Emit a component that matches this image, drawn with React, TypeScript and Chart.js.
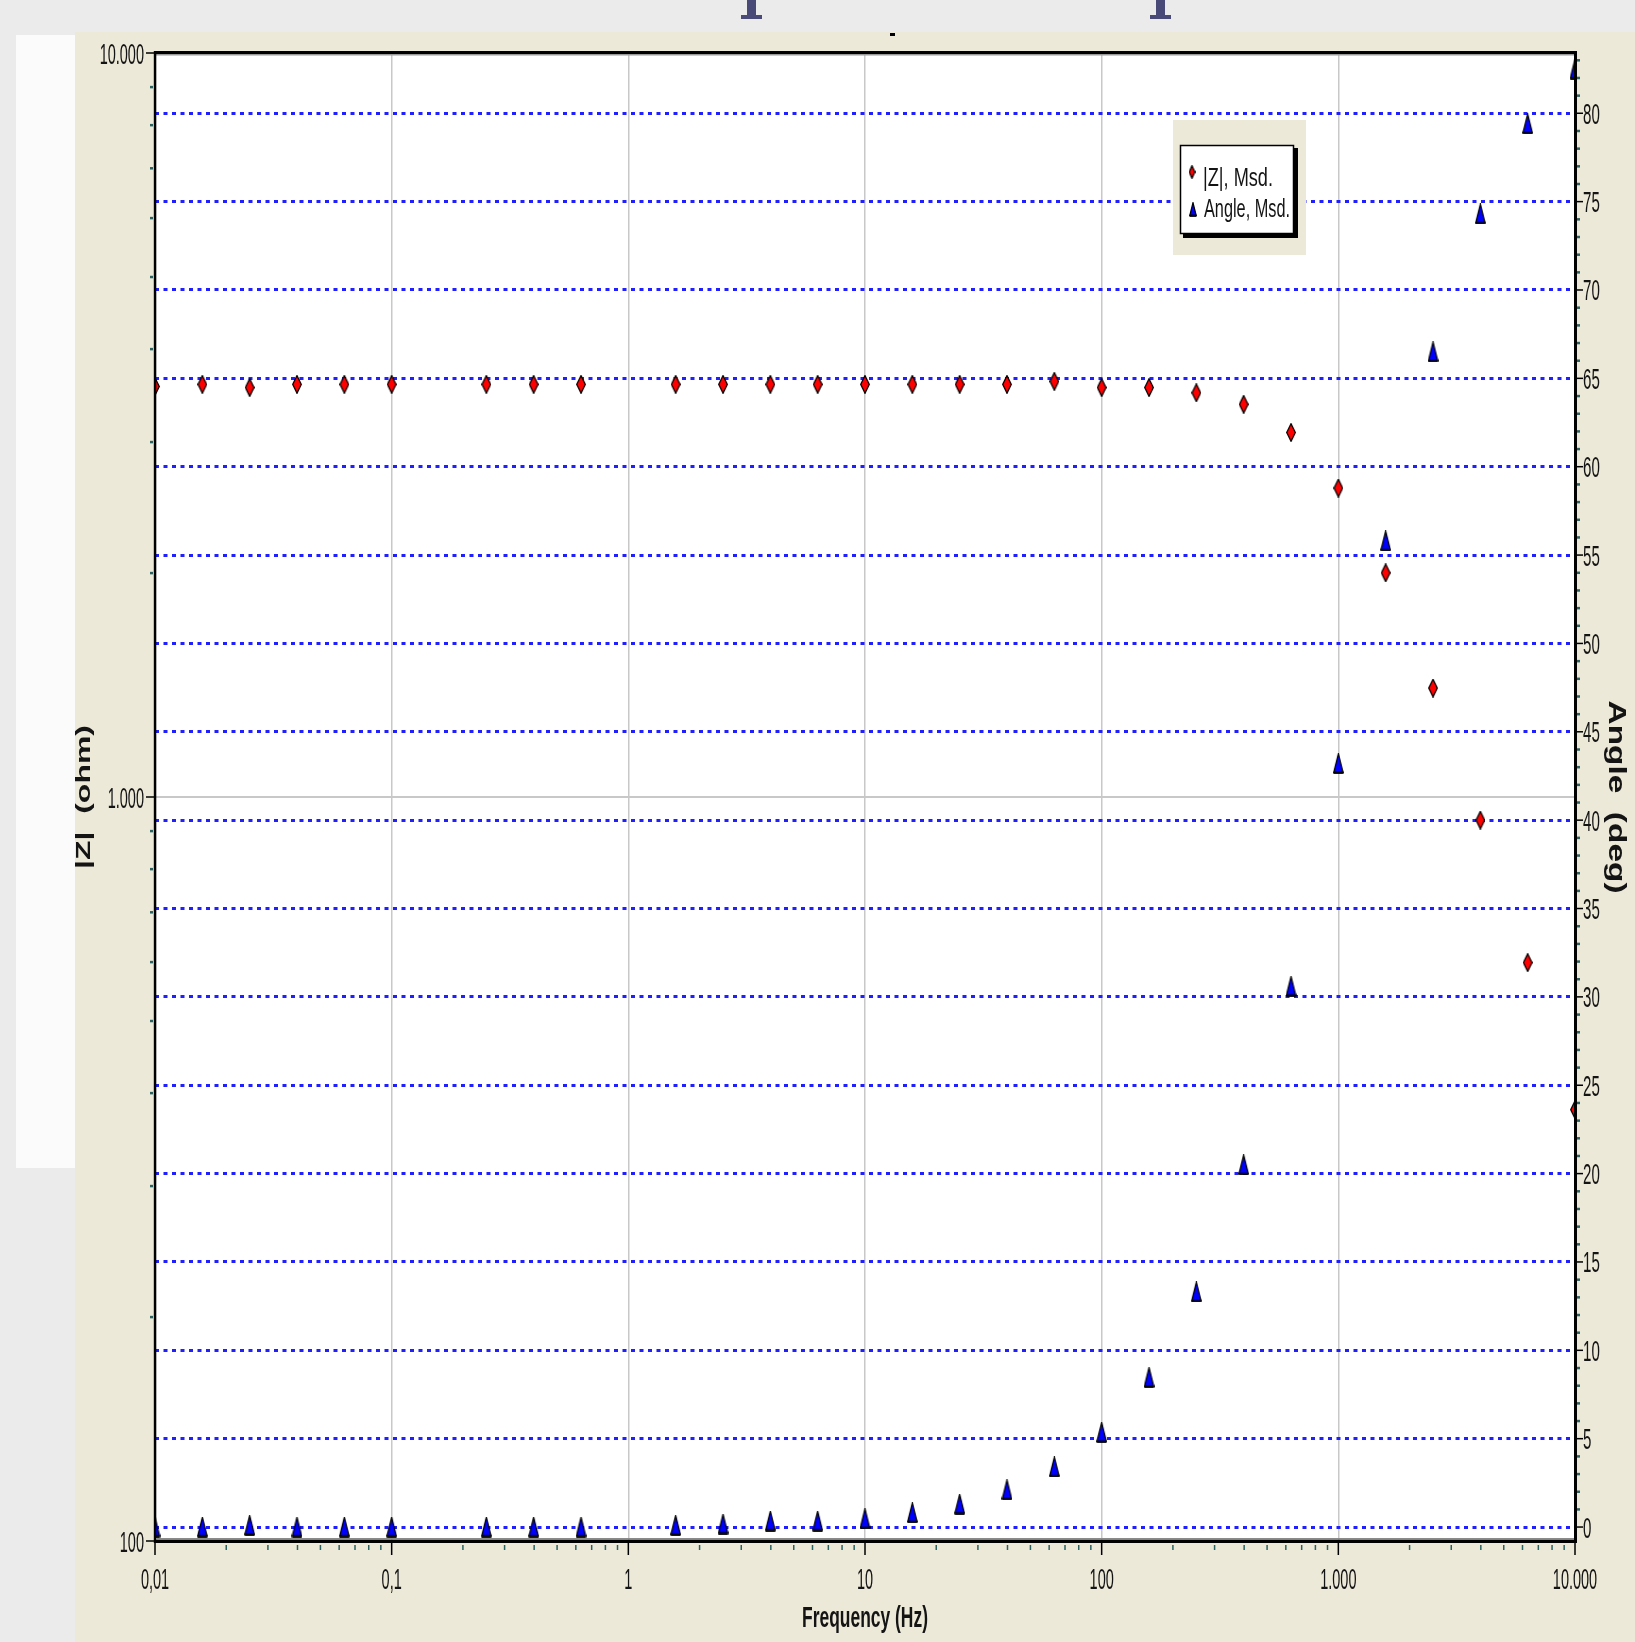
import React, { useEffect, useRef } from "react";
import { Chart, registerables } from "chart.js";

Chart.register(...registerables);

// ---- data ----
const FREQ_HZ = [
  0.01, 0.01585, 0.02512, 0.03981, 0.0631, 0.1, 0.2512, 0.3981, 0.631, 1.585,
  2.512, 3.981, 6.31, 10, 15.85, 25.12, 39.81, 63.1, 100, 158.5, 251.2, 398.1,
  631, 1000, 1585, 2512, 3981, 6310, 10000,
];
const Z_MSD = [
  3563, 3586, 3551, 3586, 3586, 3586, 3586, 3586, 3586, 3586, 3586, 3586, 3586,
  3586, 3586, 3586, 3586, 3620, 3551, 3551, 3494, 3372, 3090, 2602, 2001, 1401,
  931, 599, 380,
];
const ANGLE_MSD = [
  0, 0, 0.1, 0, 0, 0, 0, 0, 0, 0.1, 0.17, 0.34, 0.34, 0.47, 0.81, 1.3, 2.11,
  3.4, 5.36, 8.47, 13.3, 20.5, 30.6, 43.2, 55.8, 66.5, 74.3, 79.4, 82.5,
];

const X_TICKS = [0.01, 0.1, 1, 10, 100, 1000, 10000];
const X_TICK_LABELS = ["0,01", "0,1", "1", "10", "100", "1.000", "10.000"];
const Z_TICKS = [100, 1000, 10000];
const Z_TICK_LABELS = ["100", "1.000", "10.000"];
const ANGLE_TICKS = [0, 5, 10, 15, 20, 25, 30, 35, 40, 45, 50, 55, 60, 65, 70, 75, 80];
const ANGLE_TICK_LABELS = ANGLE_TICKS.map((v) => String(v));
const LEGEND_LABELS = ["|Z|, Msd.", "Angle, Msd."];
const X_TITLE = "Frequency (Hz)";
const Y_TITLE = "|Z|  (ohm)";
const Y2_TITLE = "Angle  (deg)";

const FONT = '"Liberation Sans", Arial, sans-serif';
const BEIGE = "#ECE9D8";
const TEAL = "#2a6262";

function makeDiamond(w: number, h: number) {
  const c = document.createElement("canvas");
  c.width = w;
  c.height = h;
  const g = c.getContext("2d")!;
  g.beginPath();
  g.moveTo(w / 2, 0.7);
  g.lineTo(w - 0.7, h / 2);
  g.lineTo(w / 2, h - 0.7);
  g.lineTo(0.7, h / 2);
  g.closePath();
  g.fillStyle = "#ff0000";
  g.fill();
  g.lineWidth = 1.3;
  g.strokeStyle = "#000";
  g.stroke();
  return c;
}

function makeTriangle(w: number, h: number) {
  const c = document.createElement("canvas");
  c.width = w;
  c.height = h;
  const g = c.getContext("2d")!;
  g.beginPath();
  g.moveTo(w / 2, 0.6);
  g.lineTo(w - 0.8, h - 1.5);
  g.lineTo(0.8, h - 1.5);
  g.closePath();
  g.fillStyle = "#0000ff";
  g.fill();
  g.lineWidth = 1.2;
  g.strokeStyle = "#000";
  g.stroke();
  g.beginPath();
  g.moveTo(0.5, h - 1.3);
  g.lineTo(w - 0.5, h - 1.3);
  g.lineWidth = 2.4;
  g.stroke();
  return c;
}

function drawText(
  ctx: CanvasRenderingContext2D,
  s: string,
  x: number,
  y: number,
  size: number,
  o: { bold?: boolean; sx?: number; width?: number; align?: CanvasTextAlign; rot?: number; base?: CanvasTextBaseline; color?: string } = {}
) {
  ctx.save();
  ctx.font = `${o.bold ? "bold " : ""}${size}px ${FONT}`;
  const w = ctx.measureText(s).width;
  const sx = o.width ? o.width / w : o.sx ?? 1;
  ctx.translate(x, y);
  if (o.rot) ctx.rotate(o.rot);
  ctx.scale(sx, 1);
  ctx.textAlign = o.align ?? "left";
  ctx.textBaseline = o.base ?? "alphabetic";
  ctx.fillStyle = o.color ?? "#141414";
  ctx.fillText(s, 0, 0);
  ctx.restore();
}

export default function App() {
  const ref = useRef<HTMLCanvasElement | null>(null);

  useEffect(() => {
    document.body.style.margin = "0";
    const canvas = ref.current!;
    const diamond = makeDiamond(10, 19);
    const triangle = makeTriangle(11, 21);
    const diamondSmall = makeDiamond(7, 14);
    const triangleSmall = makeTriangle(8, 15);

    const panel = {
      id: "panel",
      beforeDraw(chart: any) {
        const { ctx, chartArea: ca } = chart;
        ctx.save();
        ctx.fillStyle = BEIGE;
        ctx.fillRect(0, 0, chart.width, chart.height);
        ctx.fillStyle = "#ffffff";
        ctx.fillRect(ca.left, ca.top, ca.right - ca.left, ca.bottom - ca.top);
        ctx.restore();
      },
      afterDraw(chart: any) {
        const { ctx, chartArea: ca } = chart;
        const xs = chart.scales.x;
        const ys = chart.scales.y;
        const y2 = chart.scales.y1;
        ctx.save();

        // borders
        ctx.fillStyle = "#000";
        ctx.fillRect(ca.left - 1, ca.top - 2, ca.right - ca.left + 3, 3);
        ctx.fillStyle = "#9a9a9a";
        ctx.fillRect(ca.left + 1, ca.top + 1, ca.right - ca.left - 1, 1.5);
        ctx.fillStyle = "#000";
        ctx.fillRect(ca.left - 1.2, ca.top - 2, 2.5, ca.bottom - ca.top + 4);
        ctx.fillRect(ca.right - 1, ca.top - 2, 3, ca.bottom - ca.top + 4);
        ctx.fillRect(ca.left - 1, ca.bottom - 1.5, ca.right - ca.left + 3, 3.5);
        ctx.fillStyle = "#8a8a8a";
        ctx.fillRect(ca.left + 1, ca.bottom - 3, ca.right - ca.left - 2, 1.5);

        // left axis ticks
        ctx.strokeStyle = "#000";
        ctx.lineWidth = 1.5;
        Z_TICKS.forEach((v, i) => {
          const y = ys.getPixelForValue(v);
          ctx.beginPath();
          ctx.moveTo(ca.left - 9, y);
          ctx.lineTo(ca.left, y);
          ctx.stroke();
          drawText(ctx, Z_TICK_LABELS[i], ca.left - 11, y + 10.5, 29, { sx: 0.5, align: "right" });
        });
        ctx.fillStyle = TEAL;
        [100, 1000].forEach((d) => {
          for (let k = 2; k <= 9; k++) {
            const y = ys.getPixelForValue(k * d);
            ctx.fillRect(ca.left - 5, y - 1.2, 3, 2.5);
          }
        });

        // right axis ticks
        ANGLE_TICKS.forEach((v, i) => {
          const y = y2.getPixelForValue(v);
          ctx.beginPath();
          ctx.moveTo(ca.right, y);
          ctx.lineTo(ca.right + 8, y);
          ctx.stroke();
          drawText(ctx, ANGLE_TICK_LABELS[i], ca.right + 8, y + 10.5, 29, { sx: 0.52, align: "left" });
        });
        ctx.fillStyle = TEAL;
        for (let a = Math.ceil(y2.min); a <= Math.floor(y2.max); a++) {
          if (a % 5 === 0) continue;
          const y = y2.getPixelForValue(a);
          ctx.fillRect(ca.right + 2, y - 1.2, 3, 2.5);
        }

        // bottom axis ticks
        X_TICKS.forEach((v, i) => {
          const x = xs.getPixelForValue(v);
          ctx.strokeStyle = "#000";
          ctx.beginPath();
          ctx.moveTo(x, ca.bottom);
          ctx.lineTo(x, ca.bottom + 14);
          ctx.stroke();
          drawText(ctx, X_TICK_LABELS[i], x, ca.bottom + 48, 29, { sx: 0.5, align: "center" });
        });
        ctx.strokeStyle = TEAL;
        X_TICKS.slice(0, -1).forEach((d) => {
          for (let k = 2; k <= 9; k++) {
            const x = xs.getPixelForValue(k * d);
            ctx.beginPath();
            ctx.moveTo(x, ca.bottom + 4);
            ctx.lineTo(x, ca.bottom + 9);
            ctx.stroke();
          }
        });

        // axis titles
        drawText(ctx, X_TITLE, (ca.left + ca.right) / 2, ca.bottom + 86, 30, { bold: true, width: 126, align: "center" });
        drawText(ctx, Y_TITLE, 9, (ca.top + ca.bottom) / 2, 21, { bold: true, width: 144, align: "center", base: "middle", rot: -Math.PI / 2 });
        drawText(ctx, Y2_TITLE, 1540, (ca.top + ca.bottom) / 2, 23, { bold: true, width: 193, align: "center", base: "middle", rot: Math.PI / 2 });

        // legend
        ctx.fillStyle = BEIGE;
        ctx.fillRect(1098, 88, 133, 135);
        ctx.fillStyle = "#000";
        ctx.fillRect(1108, 116, 115, 90);
        ctx.fillStyle = "#fff";
        ctx.fillRect(1105, 113, 114, 89);
        ctx.strokeStyle = "#000";
        ctx.lineWidth = 1.5;
        ctx.strokeRect(1105.5, 113.5, 113, 88);
        ctx.drawImage(diamondSmall, 1117 - 3.5, 140 - 7);
        ctx.drawImage(triangleSmall, 1118 - 4, 178 - 8);
        drawText(ctx, LEGEND_LABELS[0], 1128, 154, 25, { width: 70 });
        drawText(ctx, LEGEND_LABELS[1], 1129, 185, 25, { width: 86 });

        // small title remnant mark
        ctx.fillStyle = "#000";
        ctx.fillRect(815, 1, 5, 3);
        ctx.restore();
      },
    };

    const chart = new Chart(canvas, {
      type: "scatter",
      data: {
        datasets: [
          {
            label: LEGEND_LABELS[0],
            data: FREQ_HZ.map((f, i) => ({ x: f, y: Z_MSD[i] })),
            yAxisID: "y",
            pointStyle: diamond as any,
            pointRadius: 8,
            clip: 0 as any,
          },
          {
            label: LEGEND_LABELS[1],
            data: FREQ_HZ.map((f, i) => ({ x: f, y: ANGLE_MSD[i] })),
            yAxisID: "y1",
            pointStyle: triangle as any,
            pointRadius: 8,
            clip: 0 as any,
          },
        ],
      },
      options: {
        animation: false,
        responsive: false,
        devicePixelRatio: 1,
        layout: { padding: { left: 80, right: 60, top: 21, bottom: 101 } },
        plugins: { legend: { display: false }, tooltip: { enabled: false }, title: { display: false } },
        scales: {
          x: {
            type: "logarithmic",
            min: 0.01,
            max: 10000,
            afterBuildTicks: (s: any) => {
              s.ticks = X_TICKS.map((v) => ({ value: v }));
            },
            afterFit: (s: any) => {
              s.height = 0;
            },
            ticks: { display: false },
            grid: { color: "#c8c8c8", lineWidth: 1.5, drawTicks: false },
            border: { display: false },
          },
          y: {
            type: "logarithmic",
            position: "left",
            min: 100,
            max: 10000,
            afterBuildTicks: (s: any) => {
              s.ticks = Z_TICKS.map((v) => ({ value: v }));
            },
            afterFit: (s: any) => {
              s.width = 0;
            },
            ticks: { display: false },
            grid: { color: "#c8c8c8", lineWidth: 2, drawTicks: false },
            border: { display: false },
          },
          y1: {
            type: "linear",
            position: "right",
            min: -0.79,
            max: 83.41,
            afterBuildTicks: (s: any) => {
              s.ticks = ANGLE_TICKS.map((v) => ({ value: v }));
            },
            afterFit: (s: any) => {
              s.width = 0;
            },
            ticks: { display: false },
            grid: { color: "#1f1fff", lineWidth: 3, drawTicks: false },
            border: { display: false, dash: [4, 4.5] },
          },
        },
      },
      plugins: [panel],
    } as any);

    return () => chart.destroy();
  }, []);

  return (
    <div style={{ position: "relative", width: 1635, height: 1642, background: "#ebebeb", overflow: "hidden" }}>
      <div style={{ position: "absolute", left: 16, top: 35, width: 59, height: 1133, background: "#fbfbfb" }} />
      <div style={{ position: "absolute", left: 747, top: 0, width: 9, height: 18, background: "#4a4a78" }} />
      <div style={{ position: "absolute", left: 741, top: 15, width: 21, height: 4, background: "#4a4a78" }} />
      <div style={{ position: "absolute", left: 1156, top: 0, width: 9, height: 18, background: "#4a4a78" }} />
      <div style={{ position: "absolute", left: 1150, top: 15, width: 21, height: 4, background: "#4a4a78" }} />
      <canvas ref={ref} width={1560} height={1610} style={{ position: "absolute", left: 75, top: 32 }} />
    </div>
  );
}
